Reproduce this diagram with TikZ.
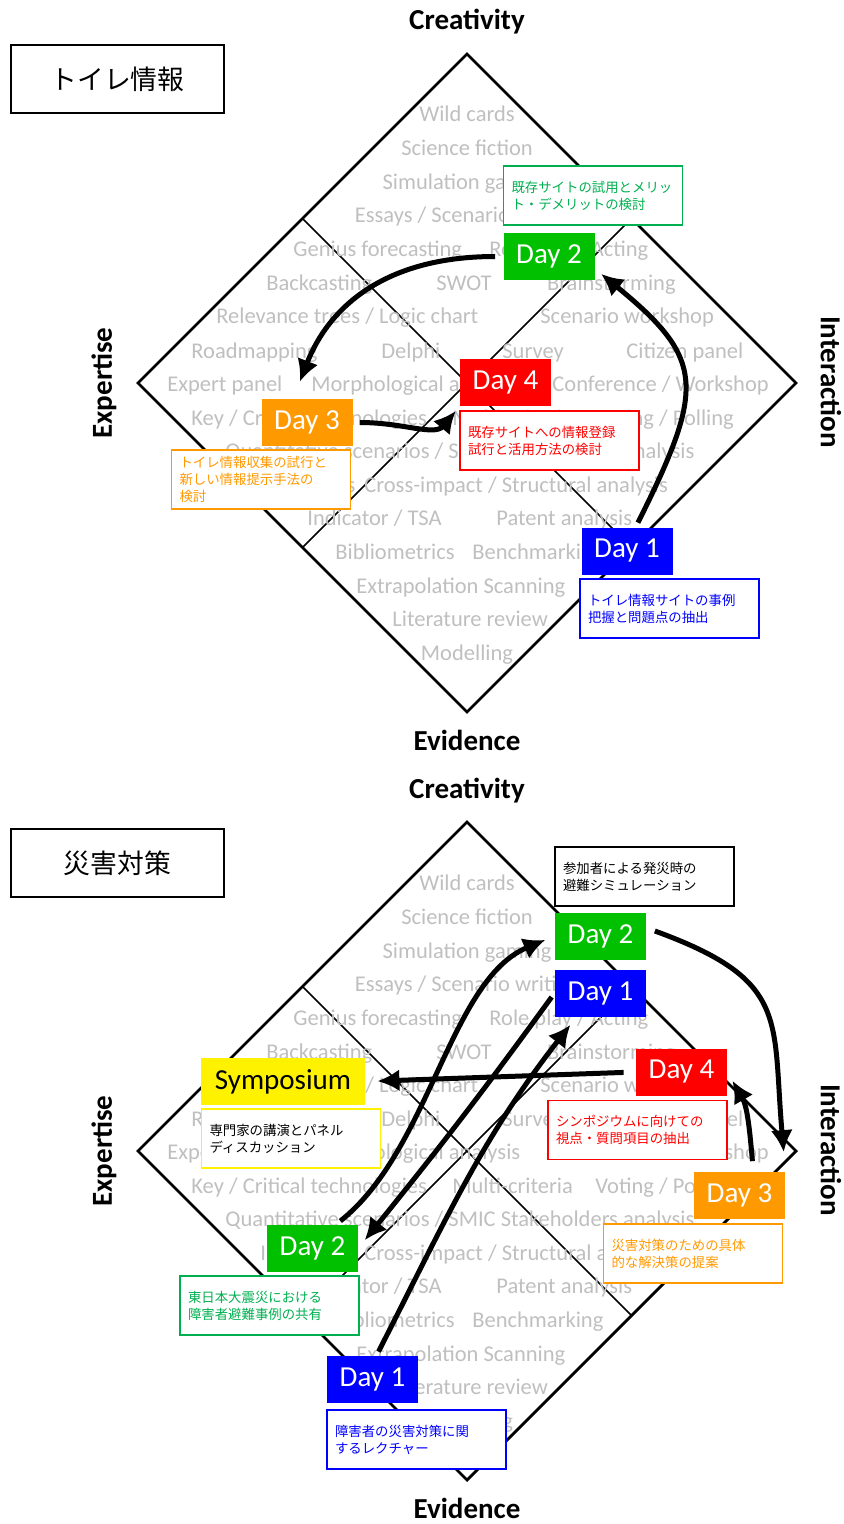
\documentclass[tikz,border=0pt]{standalone}
\usepackage{fontspec}
\setmainfont{Carlito}
\newfontfamily\jp{Noto Sans CJK JP}
\usetikzlibrary{arrows.meta}
\definecolor{dgreen}{HTML}{00C000}
\definecolor{ngreen}{HTML}{00B050}
\definecolor{dorange}{HTML}{FF9900}
\definecolor{lgray}{HTML}{BFBFBF}

\begin{document}
\begin{tikzpicture}[x=0.5pt, y=0.5pt]
	\tikzset{g/.style={text=lgray, inner sep=0, font=\fontsize{11.25}{13}\selectfont},
	ax/.style={inner sep=0, font=\bfseries\fontsize{14.5}{17}\selectfont},
	ttl/.style={draw, line width=1pt, minimum width=106.5pt, minimum height=34pt, font=\jp\fontsize{13.4}{16}\selectfont},
	day/.style={minimum width=45.5pt, minimum height=23.5pt, inner sep=0, text=white, font=\fontsize{14.5}{16}\selectfont},
	nt/.style={draw, line width=0.75pt, fill=white, minimum height=29.5pt, text width=81.5pt, inner xsep=4pt, inner ysep=0, align=left, font=\jp\fontsize{6.7}{8.5}\selectfont},
	f/.style={->, >={Latex[length=11pt, width=11pt]}, line width=2.5pt}};

	\useasboundingbox (0,0) rectangle (844,-1524);

	\foreach \p/\dy in {t/0, b/768} {
	\begin{scope}[shift={(0,-\dy)}]
		\coordinate (\p-top) at (467,-54);
		\coordinate (\p-bot) at (467,-712);
		\coordinate (\p-left) at (138,-383);
		\coordinate (\p-right) at (796,-383);
		\coordinate (\p-ul) at (302.5,-218.5);
		\coordinate (\p-ur) at (631.5,-218.5);
		\coordinate (\p-ll) at (302.5,-547.5);
		\coordinate (\p-lr) at (631.5,-547.5);

		\draw[line width=1.4pt] (\p-top) -- (\p-right) -- (\p-bot) -- (\p-left) -- cycle;
		\draw[line width=0.8pt] (\p-ul) -- (\p-lr);
		\draw[line width=0.8pt] (\p-ur) -- (\p-ll);

		\node[g, anchor=base] (\p-wc) at (467,-122) {Wild cards};
		\node[g, anchor=base] (\p-sf) at (467,-156) {Science fiction};
		\node[g, anchor=base] (\p-sg) at (467,-190) {Simulation gaming};
		\node[g, anchor=base] (\p-es) at (467,-223) {Essays / Scenario writing};
		\node[g, anchor=base west] (\p-gf) at (293,-257) {Genius forecasting};
		\node[g, anchor=base west] (\p-rp) at (489,-257) {Role play / Acting};
		\node[g, anchor=base west] (\p-bc) at (266,-291) {Backcasting};
		\node[g, anchor=base west] (\p-sw) at (436,-291) {SWOT};
		\node[g, anchor=base east] (\p-bs) at (676,-291) {Brainstorming};
		\node[g, anchor=base west] (\p-rt) at (216,-324) {Relevance trees / Logic chart};
		\node[g, anchor=base west] (\p-sc) at (540,-324) {Scenario workshop};
		\node[g, anchor=base west] (\p-rm) at (191,-358) {Roadmapping};
		\node[g, anchor=base west] (\p-de) at (381,-358) {Delphi};
		\node[g, anchor=base west] (\p-su) at (502,-358) {Survey};
		\node[g, anchor=base west] (\p-cp) at (626,-358) {Citizen panel};
		\node[g, anchor=base west] (\p-ep) at (167,-391) {Expert panel};
		\node[g, anchor=base west] (\p-ma) at (311,-391) {Morphological analysis};
		\node[g, anchor=base west] (\p-cw) at (552,-391) {Conference / Workshop};
		\node[g, anchor=base west] (\p-kc) at (191,-425) {Key / Critical technologies};
		\node[g, anchor=base west] (\p-mc) at (452,-425) {Multi-criteria};
		\node[g, anchor=base west] (\p-vp) at (595,-425) {Voting / Polling};
		\node[g, anchor=base west] (\p-qs) at (225,-458) {Quantitative scenarios / SMIC Stakeholders analysis};
		\node[g, anchor=base west] (\p-iv) at (260,-492) {Interviews};
		\node[g, anchor=base west] (\p-ci) at (364,-492) {Cross-impact / Structural analysis};
		\node[g, anchor=base west] (\p-it) at (307,-525) {Indicator / TSA};
		\node[g, anchor=base west] (\p-pa) at (496,-525) {Patent analysis};
		\node[g, anchor=base west] (\p-bm) at (335,-559) {Bibliometrics};
		\node[g, anchor=base west] (\p-bk) at (472,-559) {Benchmarking};
		\node[g, anchor=base west] (\p-ex) at (356,-593) {Extrapolation Scanning};
		\node[g, anchor=base west] (\p-lr) at (392,-626) {Literature review};
		\node[g, anchor=base] (\p-mo) at (467,-660) {Modelling};

		\node[ax, anchor=base] (\p-cre) at (467,-30) {Creativity};
		\node[ax, anchor=base] (\p-evi) at (467,-750) {Evidence};
		\node[ax, rotate=90] (\p-exp) at (104,-383) {Expertise};
		\node[ax, rotate=-90] (\p-int) at (831,-382) {Interaction};
	\end{scope}
	}

	% top: toilet information
	\node[ttl] (title1) at (117.5,-79) {トイレ情報};
	\node[nt, draw=ngreen, text=ngreen] (n2) at (593,-195.5) {既存サイトの試用とメリッ\\ト・デメリットの検討};
	\node[day, fill=dgreen] (d2) at (549,-256.5) {Day 2};
	\node[nt, draw=red, text=red] (n4) at (549.5,-440.5) {既存サイトへの情報登録\\試行と活用方法の検討};
	\node[day, fill=red] (d4) at (505.5,-382.5) {Day 4};
	\node[nt, draw=dorange, text=dorange] (n3) at (261,-479.5) {トイレ情報収集の試行と\\新しい情報提示手法の\\検討};
	\node[day, fill=dorange] (d3) at (307,-422.5) {Day 3};
	\node[nt, draw=blue, text=blue] (n1) at (669.5,-608.5) {トイレ情報サイトの事例\\把握と問題点の抽出};
	\node[day, fill=blue] (d1) at (627,-551) {Day 1};

	\draw[f, shorten <=2.5pt, shorten >=4pt] (d1.70) .. controls +(70,140) and +(110,-90) .. (d2.-15);
	\draw[f, shorten <=4pt, shorten >=9pt] (d2.west) .. controls +(-120,0) and +(35,90) .. (d3.120);
	\draw[f, shorten <=3.5pt, shorten >=3pt] (d3.east) .. controls +(50,0) and +(-25,-30) .. (d4.south west);

	% bottom: disaster measures
	\node[ttl] (title2) at (117.5,-863) {災害対策};
	\node[nt, draw=black, text=black] (bn2hi) at (644.5,-876.5) {参加者による発災時の\\避難シミュレーション};
	\node[day, fill=dgreen] (bd2hi) at (600.5,-936) {Day 2};
	\node[day, fill=blue] (bd1hi) at (600.5,-993) {Day 1};
	\node[day, fill=red] (bd4) at (681.5,-1072) {Day 4};
	\node[nt, draw=red, text=red] (bn4) at (637.5,-1130) {シンポジウムに向けての\\視点・質問項目の抽出};
	\node[day, fill=yellow, text=black, minimum width=82pt] (bsym) at (283,-1081.5) {Symposium};
	\node[nt, draw=yellow, text=black] (bnsym) at (291,-1138.5) {専門家の講演とパネル\\ディスカッション};
	\node[day, fill=dorange] (bd3) at (739.5,-1195) {Day 3};
	\node[nt, draw=dorange, text=dorange] (bn3) at (693,-1253.5) {災害対策のための具体\\的な解決策の提案};
	\node[day, fill=dgreen] (bd2lo) at (312.5,-1248) {Day 2};
	\node[nt, draw=ngreen, text=ngreen] (bn2lo) at (269.5,-1305.5) {東日本大震災における\\障害者避難事例の共有};
	\node[day, fill=blue] (bd1lo) at (372.5,-1379) {Day 1};
	\node[nt, draw=blue, text=blue] (bn1lo) at (416.5,-1439.5) {障害者の災害対策に関\\するレクチャー};

	\draw[f, shorten <=2pt, shorten >=5pt] (bd1lo.80) to[out=63, in=-128] (bd1hi.-135);
	\draw[f, shorten <=2.5pt, shorten >=5pt] (bd1hi.west) to[out=-126, in=51] (bd2lo.east);
	\draw[f, shorten <=2.5pt, shorten >=5pt] (bd2lo.45) .. controls +(93.5,74) and +(-105,-44) .. (bd2hi.west);
	\draw[f, shorten <=4.5pt, shorten >=9.5pt] (bd2hi.10) to[out=-20, in=95, looseness=1.4] (bd3.north east);
	\draw[f, shorten <=5pt, shorten >=5pt] (bd3.60) to[out=95, in=-60] (bd4.east);
	\draw[f, shorten <=6pt, shorten >=6pt] (bd4.west) -- (bsym.east);
\end{tikzpicture}
\end{document}
